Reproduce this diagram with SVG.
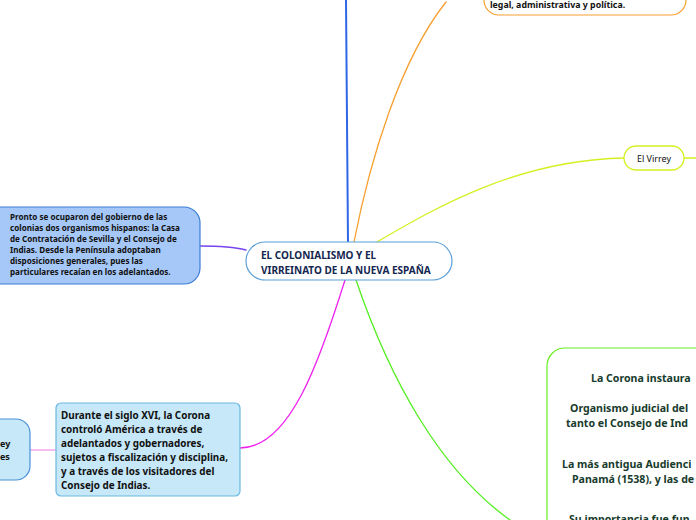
<svg xmlns="http://www.w3.org/2000/svg" width="696" height="520" viewBox="0 0 696 520">
<style>
text{font-family:"Noto Sans","Open Sans","DejaVu Sans",sans-serif;font-weight:bold;fill:#111}
.c{fill:none;stroke-linecap:round}
</style>
<rect width="696" height="520" fill="#fff"/>
<g id="connectors">
<path class="c" d="M348,242 L346,0" stroke="#2f66e6" stroke-width="2"/>
<path class="c" d="M354,242 C370,160 400,60 446,2" stroke="#f7a030" stroke-width="1.3"/>
<path class="c" d="M377,242 C440,205 520,160 624,158" stroke="#d4f020" stroke-width="1.3"/>
<path class="c" d="M684,158 L696,158" stroke="#d4f020" stroke-width="1.3"/>
<path class="c" d="M246,250 C230,246 215,246 200,246" stroke="#7744ee" stroke-width="1.3"/>
<path class="c" d="M345,280 C320,360 290,448 240,448" stroke="#ee22ee" stroke-width="1.3"/>
<path class="c" d="M56,450 L30,450" stroke="#f6a6f0" stroke-width="1.3"/>
<path class="c" d="M356,280 C390,380 440,470 510,520" stroke="#55ee22" stroke-width="1.3"/>
</g>
<g id="top-orange">
<rect x="484" y="-30" width="202" height="45" rx="15" fill="#fff" stroke="#f7a030" stroke-width="1.2"/>
<text x="490" y="8" font-size="8.8">legal, administrativa y política.</text>
</g>
<g id="virrey">
<rect x="624" y="146" width="60" height="24" rx="12" fill="#fff" stroke="#d4f020" stroke-width="1.3"/>
<text x="654" y="162" font-size="9" text-anchor="middle" style="font-weight:normal">El Virrey</text>
</g>
<g id="central">
<rect x="246" y="242" width="206" height="38" rx="19" fill="#fff" stroke="#5b9fd8" stroke-width="1.2"/>
<text x="261" y="259" font-size="10" style="fill:#14264f">EL COLONIALISMO Y EL</text>
<text x="261" y="274" font-size="10" style="fill:#14264f">VIRREINATO DE LA NUEVA ESPAÑA</text>
</g>
<g id="left-blue">
<rect x="-20" y="207" width="220" height="77" rx="16" fill="#a6c8f8" stroke="#3b7dd8" stroke-width="1.2"/>
<text font-size="8.1">
<tspan x="10" y="220">Pronto se ocuparon del gobierno de las</tspan>
<tspan x="10" y="231">colonias dos organismos hispanos: la Casa</tspan>
<tspan x="10" y="242">de Contratación de Sevilla y el Consejo de</tspan>
<tspan x="10" y="253">Indias. Desde la Península adoptaban</tspan>
<tspan x="10" y="264">disposiciones generales, pues las</tspan>
<tspan x="10" y="275">particulares recaían en los adelantados.</tspan>
</text>
</g>
<g id="siglo">
<rect x="56" y="403" width="184" height="93" rx="5" fill="#c6e8f8" stroke="#6ab8e0" stroke-width="1.2"/>
<text font-size="9.9">
<tspan x="61" y="419">Durante el siglo XVI, la Corona</tspan>
<tspan x="61" y="433">controló América a través de</tspan>
<tspan x="61" y="447">adelantados y gobernadores,</tspan>
<tspan x="61" y="461">sujetos a fiscalización y disciplina,</tspan>
<tspan x="61" y="475">y a través de los visitadores del</tspan>
<tspan x="61" y="489">Consejo de Indias.</tspan>
</text>
</g>
<g id="left-cut">
<rect x="-40" y="419" width="70" height="61" rx="14" fill="#c6e8f8" stroke="#4a90d9" stroke-width="1.2"/>
<text font-size="9">
<tspan x="0" y="447">ey</tspan>
<tspan x="0" y="460">es</tspan>
</text>
</g>
<g id="green-node">
<rect x="547" y="348" width="200" height="200" rx="18" fill="#fff" stroke="#66ee22" stroke-width="1.2"/>
<text font-size="10.6" style="fill:#173b2c">
<tspan x="591" y="382">La Corona instaura</tspan>
<tspan x="570" y="412">Organismo judicial del</tspan>
<tspan x="566" y="427">tanto el Consejo de Ind</tspan>
<tspan x="562" y="468">La más antigua Audienci</tspan>
<tspan x="572" y="483">Panamá (1538), y las de</tspan>
<tspan x="569" y="523">Su importancia fue fun</tspan>
</text>
</g>
</svg>
